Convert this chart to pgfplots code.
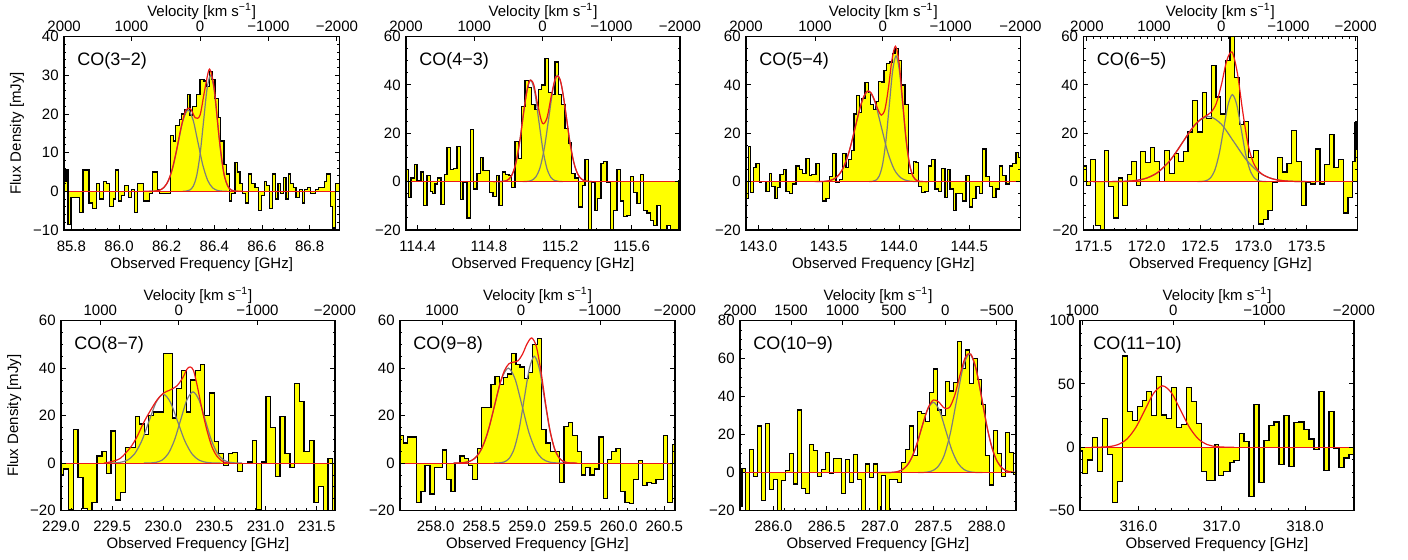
\documentclass[border=0pt]{standalone}
\usepackage{fontspec}
\setmainfont{Liberation Sans}
\usepackage{pgfplots}
\usepackage{pgfplotstable}
\pgfplotsset{compat=1.18}
\definecolor{fitgray}{RGB}{125,125,125}
\definecolor{fitred}{RGB}{235,25,25}
\definecolor{specfill}{RGB}{255,255,0}
\newcommand{\tfont}{\fontsize{7.5}{8}\selectfont}
\pgfplotsset{
  spec/.style={
    scale only axis, anchor=south west, axis on top, clip=true,
    tick align=inside, xtick pos=left, xticklabel pos=left, ytick pos=both, yticklabel pos=left,
    major tick length=2.4pt, minor tick length=1.2pt,
    every tick/.append style={black, line width=0.45pt},
    axis line style={black, line width=0.6pt},
    tick label style={font=\tfont, inner sep=0pt},
    label style={font=\tfont},
    xticklabel={\pgfmathprintnumber[fixed,fixed zerofill,precision=1,assume math mode=true]{\tick}},
    xticklabel style={anchor=base, yshift=-10.5pt},
    yticklabel style={anchor=east, xshift=-2.5pt},
    xlabel={Observed Frequency [GHz]},
    xlabel style={at={(axis description cs:0.5,0)}, anchor=base, yshift=-19pt},
    ylabel style={at={(axis description cs:-0.171,0.5)}, anchor=center},
    minor x tick num=3,
  },
  vel/.style={
    scale only axis, anchor=south west, ymin=0, ymax=1, ytick=\empty,
    tick align=inside, xtick pos=right, xticklabel pos=right,
    major tick length=2.4pt, minor tick length=1.2pt, minor x tick num=9,
    every tick/.append style={black, line width=0.45pt},
    axis line style={black, line width=0.6pt},
    tick label style={font=\tfont, inner sep=0pt},
    xticklabel style={anchor=base, yshift=2.5pt},
    title={Velocity [km s\textsuperscript{−1}]},
    title style={at={(axis description cs:0.5,1)}, anchor=base, yshift=4pt, font=\tfont},
  },
  hist/.style={const plot, draw=none, fill=specfill},
  outl/.style={const plot, black, line width=0.6pt},
  gfit/.style={smooth, fitgray, line width=0.6pt},
  rfit/.style={smooth, fitred, line width=0.6pt},
  rbase/.style={fitred, line width=0.6pt},
}
\newcommand{\colab}[1]{\node[anchor=north west, inner sep=0pt, font=\fontsize{9}{10}\selectfont] at (rel axis cs:0,1) [xshift=6.5pt, yshift=-7.5pt] {#1};}

\pgfplotstableread{
x y
85.7692 2.5
85.7776 5.5
85.7860 -8.5
85.7986 -1.5
85.8351 -5.5
85.8491 5.5
85.8743 -3
85.8883 -4.5
85.9051 2
85.9192 -2
85.9332 2.5
85.9472 2
85.9612 -4
85.9752 -2
85.9864 5.5
85.9976 -2.5
86.0103 -1
86.0243 1.5
86.0383 -1.5
86.0523 0.5
86.0663 -5.5
86.0761 2
86.1014 -2.5
86.1294 -0.5
86.1392 5
86.1602 0.5
86.1714 -0.5
86.2163 14.5
86.2275 13
86.2387 17
86.2527 18.5
86.2625 20
86.2765 21
86.2877 25
86.2976 19.5
86.3088 22
86.3256 25
86.3396 29
86.3564 28.5
86.3676 27
86.3788 31
86.3901 29
86.4027 24
86.4167 19
86.4265 13
86.4405 7
86.4517 4.5
86.4629 -2.5
86.4727 -0.5
86.4868 7.5
86.4966 5
86.5078 2
86.5190 -0.5
86.5302 -3
86.5428 4.5
86.5568 2
86.5709 1
86.5849 -5
86.5989 -1
86.6101 2.5
86.6199 1.5
86.6311 -4.5
86.6451 4.5
86.6563 -2
86.6676 2
86.6788 -0.5
86.6900 3.5
86.7012 -2
86.7124 4.5
86.7208 2
86.7320 1
86.7432 -1.5
86.7573 0.5
86.7685 -3
86.7797 0.5
86.7909 1
86.8021 -0.5
86.8245 0.5
86.8357 1
86.8610 2.5
86.8722 4.5
86.8862 -4
86.8974 -9.5
86.9086 2
86.9254 2
}\hA

\pgfplotstableread{
x y
114.3346 5
114.3477 -6.5
114.3626 1.5
114.3813 7
114.3963 0.5
114.4187 4
114.4337 -10
114.4523 2.5
114.4710 -4
114.4823 -5
114.4972 -1
114.5122 1.5
114.5309 -9.5
114.5495 3
114.5645 14
114.5832 5
114.6019 5.5
114.6206 14.5
114.6393 -7.5
114.6542 -0.5
114.6767 -15
114.6953 21.5
114.7140 -3
114.7327 3.5
114.7514 10
114.7664 4.5
114.8038 -4.5
114.8224 -6
114.8411 2.5
114.8561 -10
114.8748 4
114.8935 3
114.9122 2.5
114.9271 -2.5
114.9458 16.5
114.9645 9.5
114.9832 31
115.0019 42
115.0206 39
115.0393 32
115.0580 30
115.0767 38
115.0954 40
115.1140 51
115.1327 37
115.1514 36
115.1701 49.5
115.1888 36
115.2075 32
115.2262 22
115.2449 16
115.2636 3.5
115.2823 1.5
115.3010 -10.5
115.3234 -1.5
115.3383 9
115.3570 -28
115.3757 -0.5
115.3944 -12
115.4094 -7
115.4281 7.5
115.4430 8.5
115.4617 -0.5
115.4804 -28
115.4991 -12
115.5178 5
115.5365 -8
115.5552 -14.5
115.5739 -14
115.5926 2
115.6113 -4.5
115.6299 -9
115.6486 3
115.6673 -12
115.6860 -13
115.7047 -16
115.7234 -18
115.7421 -10
115.7608 -20
115.7795 -20
115.7982 -18
115.8169 -20
115.8356 -20.5
115.8617 0.5
115.8711 0.5
}\hB

\pgfplotstableread{
x y
142.9123 -7
142.9289 14.5
142.9455 -4.5
142.9645 6
142.9834 7.5
143.0071 -0.5
143.0237 0
143.0545 -4
143.0782 3.5
143.0948 -2
143.1185 -7
143.1351 -2.5
143.1540 3
143.1777 5
143.1967 -4
143.2204 -5
143.2441 -1
143.2678 6.5
143.2915 5
143.3152 3.5
143.3389 9.5
143.3626 2.5
143.3792 3
143.4100 7.5
143.4337 0
143.4574 -8
143.4811 -7
143.5048 2
143.5285 11.5
143.5522 -0.5
143.5758 1
143.5995 11.5
143.6232 6
143.6422 9
143.6612 13
143.6801 28
143.6991 35.5
143.7180 28.5
143.7346 34.5
143.7583 41
143.7820 37
143.7986 32
143.8176 30
143.8365 33
143.8555 41.5
143.8792 41
143.8934 46
143.9123 49
143.9313 49.5
143.9550 53
143.9716 55
143.9953 50
144.0190 40
144.0427 32
144.0664 3.5
144.0830 3.5
144.1019 8.5
144.1209 8
144.1398 -2
144.1612 -4.5
144.1849 -4
144.2086 6.5
144.2323 9
144.2560 -3
144.2797 -4
144.3033 5.5
144.3270 -6.5
144.3436 5
144.3626 -3
144.3863 -12
144.4052 -5
144.4289 -5
144.4526 -8
144.4763 2.5
144.5000 -10.5
144.5237 -7
144.5474 -2
144.5711 -5
144.5948 13.5
144.6185 2
144.6422 -2
144.6659 -6.5
144.6896 -3
144.7133 6.5
144.7370 2.5
144.7607 -1
144.7844 6.5
144.8081 7.5
144.8318 12
144.8484 10
144.8649 10
}\hC

\pgfplotstableread{
x y
171.4063 6.5
171.4313 -1.5
171.4688 9
171.5156 -18
171.5625 -22
171.6000 13
171.6438 -2
171.6875 -15
171.7344 1.5
171.7750 -10
171.8188 3
171.8594 8.5
171.9000 -1.5
171.9438 12.5
171.9875 8
172.0313 14
172.0750 8.5
172.1188 0
172.1656 13
172.2094 3.5
172.2563 11.5
172.3000 8.5
172.3438 12.5
172.3875 20.5
172.4313 33.5
172.4750 20.5
172.5188 37
172.5625 26
172.6063 48
172.6500 35
172.6938 28
172.7375 50
172.7813 62
172.8250 43
172.8688 23.5
172.9125 25
172.9563 10
173.0000 13
173.0469 -17.5
173.0938 -15.5
173.1375 -12
173.1781 -0.5
173.2250 10
173.2719 4
173.3156 7.5
173.3594 21
173.4063 8.5
173.4500 -10
173.4938 -0.5
173.5375 -1
173.5813 13.5
173.6250 -1
173.6688 7
173.7125 19.5
173.7563 6
173.8000 9
173.8438 -13
173.8875 -6.5
173.9313 8.5
173.9531 24.5
173.9688 13.5
173.9750 13.5
}\hD

\pgfplotstableread{
x y
229.0033 -5
229.0260 -2.5
229.0749 -19.5
229.1237 14
229.1660 -6
229.2148 -19
229.2604 -21
229.3027 -16.5
229.3516 3
229.4004 5
229.4427 -4.5
229.4883 13.5
229.5339 -15.5
229.5794 -12.5
229.6283 6.5
229.7259 19.5
229.7682 16.5
229.8138 12
229.8561 20
229.9049 21.5
230.0026 46
230.0937 19
230.1328 31.5
230.1816 39
230.2240 21.5
230.2695 35
230.3118 39
230.3607 41.5
230.4062 20
230.4518 29.5
230.4974 9
230.5430 4
230.5885 -1
230.6341 4
230.6797 4.5
230.7253 -3.5
230.7773 0
230.8229 0.5
230.8685 9.5
230.9141 -19.5
230.9596 0.5
231.0052 28
231.0508 15
231.0964 -5.5
231.1419 19.5
231.1908 4
231.2396 -2
231.2852 33.5
231.3307 26
231.3763 5
231.4284 9.5
231.4740 -16.5
231.5195 -10
231.5651 -22
231.6107 2
231.6562 -20
231.6790 -20
}\hE

\pgfplotstableread{
x y
257.6101 11.5
257.6465 8.5
257.6939 11
257.7923 -16.5
257.8396 -12
257.8834 -1
257.9380 -13
257.9854 -2
258.0729 5.5
258.1203 -7
258.1676 -12
258.2114 0
258.2660 3
258.3134 2
258.3571 -1
258.4045 -7
258.4555 6
258.5029 23.5
258.6050 33
258.6487 36.5
258.6961 33
258.7398 36
258.7872 37.5
258.8309 46
258.8783 41.5
258.9220 40.5
258.9694 35.5
259.0131 38
259.0605 50
259.1115 52.5
259.1589 14
259.2063 8.5
259.2573 5
259.3520 -8
259.4031 15.5
259.4504 17
259.4978 11.5
259.5488 5
259.5962 -5
259.6399 -2
259.6873 -5
259.7347 -2.5
259.7857 11
259.8331 -15
259.8805 1.5
259.9242 5
259.9716 6
260.0189 -12
260.0700 -16.5
260.1173 -17
260.1647 -7
260.2157 1
260.2631 -9.5
260.3105 -8
260.3615 -8.5
260.4089 -7
260.4891 11.5
260.5364 -16.5
260.5911 8
260.6166 8
}\hF

\pgfplotstableread{
x y
285.6875 -18
285.7063 2
285.7375 -22
285.7750 12
285.8125 -2
285.8500 24.5
285.8875 -14.5
285.9250 26
285.9625 -9
286.0000 -3.5
286.0375 -22
286.0750 -4
286.1125 1
286.1500 10
286.1875 -6
286.2250 33
286.2625 -8.5
286.3000 -11
286.3375 15
286.3750 11.5
286.4125 -2
286.4500 1.5
286.4875 10.5
286.5250 -0.5
286.5625 7.5
286.6375 -11
286.6750 7
286.7125 -5
286.7500 9.5
286.7875 -3.5
286.8250 -20
286.8625 4.5
286.9000 -2.5
286.9375 4.5
286.9750 -21
287.0125 -1.5
287.0500 -22
287.0875 -3.5
287.1625 -5
287.2000 5.5
287.2375 12
287.2750 24.5
287.3125 9
287.3500 32
287.3875 31
287.4250 27
287.4625 42
287.5000 54.5
287.5375 33
287.5750 30
287.6125 48
287.6500 43
287.6875 47.5
287.7250 69
287.7625 55
287.8000 64.5
287.8375 47
287.8750 60
287.9125 49
287.9500 36
287.9875 9
288.0250 -6.5
288.0625 22
288.1000 10
288.1375 -2
288.1750 21
288.2125 10.5
288.2500 -1
288.2750 -1
}\hG

\pgfplotstableread{
x y
315.300 -3
315.332 -20.5
315.388 -10
315.448 7.5
315.508 -19
315.568 23
315.628 -6
315.688 -43.5
315.748 -27
315.808 72
315.868 28
315.928 21
315.988 32
316.048 37
316.100 44
316.160 25
316.220 56
316.280 25.5
316.340 23
316.400 47.5
316.460 15.5
316.520 18
316.580 47
316.640 36
316.700 19
316.760 -19
316.820 -26.5
316.920 2
316.960 -22
317.020 -19
317.100 -12
317.148 -10.5
317.212 11
317.268 4.5
317.328 -39
317.388 33.5
317.448 -28
317.508 5.5
317.568 17.5
317.628 20
317.688 -13.5
317.748 25
317.808 -15
317.868 19.5
317.928 20
317.988 14
318.048 6.5
318.108 -2
318.168 44
318.228 -18.5
318.288 28.5
318.348 -1
318.408 -16
318.468 -8.5
318.528 -5.5
318.588 -5.5
}\hH

\begin{document}
\begin{tikzpicture}
\useasboundingbox (0,0) rectangle (704pt,279.5pt);

% ---------------- Panel 1: CO(3-2)
\begin{axis}[spec, at={(32pt,164.5pt)}, width=137.7pt, height=96.7pt,
  xmin=85.769, xmax=86.925, ymin=-10, ymax=40,
  xtick={85.8,86.0,86.2,86.4,86.6,86.8},
  ytick={-10,0,10,20,30,40}, yticklabels={−10,0,10,20,30,40}, minor y tick num=4,
  ylabel={Flux Density [mJy]}]
\addplot[hist] table {\hA} \closedcycle;
\addplot[outl] table {\hA};
\addplot[gfit] coordinates {(86.126,0.006) (86.1465,0.046) (86.167,0.233) (86.1875,0.922) (86.208,2.84) (86.2285,6.82) (86.249,12.74) (86.2695,18.53) (86.29,21) (86.3105,18.53) (86.331,12.74) (86.3515,6.82) (86.372,2.84) (86.3925,0.922) (86.413,0.233) (86.4335,0.046) (86.454,0.006)};
\addplot[gfit] coordinates {(86.268,0.009) (86.2825,0.066) (86.297,0.333) (86.3115,1.317) (86.326,4.06) (86.3405,9.74) (86.355,18.2) (86.3695,26.5) (86.384,30) (86.3985,26.5) (86.413,18.2) (86.4275,9.74) (86.442,4.06) (86.4565,1.317) (86.471,0.333) (86.4855,0.066) (86.50,0.009)};
\addplot[rbase] coordinates {(85.769,0) (86.925,0)};
\addplot[rfit] coordinates {(86.10,0) (86.12,0.005) (86.14,0.03) (86.16,0.14) (86.18,0.59) (86.20,1.93) (86.22,5.0) (86.24,10.2) (86.26,16.4) (86.28,20.95) (86.30,21.35) (86.32,19.0) (86.34,19.7) (86.36,26.3) (86.38,31.6) (86.40,26.4) (86.42,14.0) (86.44,4.65) (86.46,0.97) (86.48,0.12) (86.50,0.01) (86.52,0)};
\colab{CO(3−2)}
\end{axis}
\begin{axis}[vel, at={(32pt,164.5pt)}, width=137.7pt, height=96.7pt,
  xmin=85.769, xmax=86.925,
  xtick={85.7695,86.052,86.34,86.627,86.9145}, xticklabels={2000,1000,0,−1000,−2000}]
\end{axis}

% ---------------- Panel 2: CO(4-3)
\begin{axis}[spec, at={(203pt,164.5pt)}, width=137pt, height=96.7pt,
  xmin=114.335, xmax=115.871, ymin=-20, ymax=60,
  xtick={114.4,114.8,115.2,115.6},
  ytick={-20,0,20,40,60}, yticklabels={−20,0,20,40,60}, minor y tick num=3]
\addplot[hist] table {\hB} \closedcycle;
\addplot[outl] table {\hB};
\addplot[gfit] coordinates {(114.854,0.013) (114.8765,0.092) (114.899,0.466) (114.9215,1.844) (114.944,5.68) (114.9665,13.64) (114.989,25.47) (115.0115,37.07) (115.034,42) (115.0565,37.07) (115.079,25.47) (115.1015,13.64) (115.124,5.68) (115.1465,1.844) (115.169,0.466) (115.1915,0.092) (115.214,0.013)};
\addplot[gfit] coordinates {(114.989,0.013) (115.0135,0.097) (115.038,0.488) (115.0625,1.93) (115.087,5.95) (115.1115,14.29) (115.136,26.69) (115.1605,38.83) (115.185,44) (115.2095,38.83) (115.234,26.69) (115.2585,14.29) (115.283,5.95) (115.3075,1.93) (115.332,0.488) (115.3565,0.097) (115.381,0.013)};
\addplot[rbase] coordinates {(114.335,0) (115.871,0)};
\addplot[rfit] coordinates {(114.825,0) (114.85,0.01) (114.875,0.08) (114.90,0.49) (114.925,2.24) (114.95,7.35) (114.975,17.8) (115.00,31.6) (115.025,41.4) (115.05,40.4) (115.075,31.2) (115.10,24.1) (115.125,26.3) (115.15,35.6) (115.175,43.4) (115.20,42.0) (115.225,31.5) (115.25,18.2) (115.275,8.1) (115.30,2.8) (115.325,0.74) (115.35,0.15) (115.375,0.02) (115.40,0)};
\colab{CO(4−3)}
\end{axis}
\begin{axis}[vel, at={(203pt,164.5pt)}, width=137pt, height=96.7pt,
  xmin=114.335, xmax=115.871,
  xtick={114.3355,114.718,115.101,115.486,115.8705}, xticklabels={2000,1000,0,−1000,−2000}]
\end{axis}

% ---------------- Panel 3: CO(5-4)
\begin{axis}[spec, at={(373pt,164.5pt)}, width=137.3pt, height=96.7pt,
  xmin=142.912, xmax=144.865, ymin=-20, ymax=60,
  xtick={143.0,143.5,144.0,144.5}, minor x tick num=4,
  ytick={-20,0,20,40,60}, yticklabels={−20,0,20,40,60}, minor y tick num=3]
\addplot[hist] table {\hC} \closedcycle;
\addplot[outl] table {\hC};
\addplot[gfit] coordinates {(143.414,0.011) (143.46,0.083) (143.506,0.416) (143.552,1.646) (143.598,5.07) (143.644,12.18) (143.69,22.74) (143.736,33.09) (143.782,37.5) (143.828,33.09) (143.874,22.74) (143.92,12.18) (143.966,5.07) (144.012,1.646) (144.058,0.416) (144.104,0.083) (144.15,0.011)};
\addplot[gfit] coordinates {(143.787,0.016) (143.811,0.114) (143.835,0.577) (143.859,2.28) (143.883,7.04) (143.907,16.88) (143.931,31.54) (143.955,45.89) (143.979,52) (144.003,45.89) (144.027,31.54) (144.051,16.88) (144.075,7.04) (144.099,2.28) (144.123,0.577) (144.147,0.114) (144.171,0.016)};
\addplot[rbase] coordinates {(142.912,0) (144.865,0)};
\addplot[rfit] coordinates {(143.40,0.01) (143.425,0.03) (143.45,0.06) (143.475,0.14) (143.50,0.34) (143.525,0.76) (143.55,1.56) (143.575,2.99) (143.60,5.29) (143.625,8.7) (143.65,13.4) (143.675,19.1) (143.70,25.2) (143.725,30.9) (143.75,35.3) (143.775,37.4) (143.80,36.85) (143.825,33.9) (143.85,29.9) (143.875,27.5) (143.90,29.9) (143.925,38.8) (143.95,50.4) (143.975,56.0) (144.00,49.5) (144.025,34.0) (144.05,17.9) (144.075,7.3) (144.10,2.26) (144.125,0.55) (144.15,0.1) (144.175,0.01) (144.20,0)};
\colab{CO(5−4)}
\end{axis}
\begin{axis}[vel, at={(373pt,164.5pt)}, width=137.3pt, height=96.7pt,
  xmin=142.912, xmax=144.865,
  xtick={142.9125,143.403,143.884,144.367,144.8645}, xticklabels={2000,1000,0,−1000,−2000}]
\end{axis}

% ---------------- Panel 4: CO(6-5)
\begin{axis}[spec, at={(541.7pt,164.5pt)}, width=137pt, height=96.7pt,
  xmin=171.406, xmax=173.975, ymin=-20, ymax=60,
  xtick={171.5,172.0,172.5,173.0,173.5}, minor x tick num=4,
  ytick={-20,0,20,40,60}, yticklabels={−20,0,20,40,60}, minor y tick num=3]
\addplot[hist] table {\hD} \closedcycle;
\addplot[outl] table {\hD};
\addplot[gfit] coordinates {(171.618,0.008) (171.738,0.059) (171.858,0.3) (171.978,1.185) (172.098,3.65) (172.218,8.77) (172.338,16.38) (172.458,23.83) (172.578,27) (172.698,23.83) (172.818,16.38) (172.938,8.77) (173.058,3.65) (173.178,1.185) (173.298,0.3) (173.418,0.059) (173.538,0.008)};
\addplot[gfit] coordinates {(172.475,0.011) (172.516,0.079) (172.557,0.4) (172.598,1.58) (172.639,4.87) (172.68,11.69) (172.721,21.83) (172.762,31.77) (172.803,36) (172.844,31.77) (172.885,21.83) (172.926,11.69) (172.967,4.87) (173.008,1.58) (173.049,0.4) (173.09,0.079) (173.131,0.011)};
\addplot[rbase] coordinates {(171.406,0) (173.975,0)};
\addplot[rfit] coordinates {(171.5,0) (171.6,0.007) (171.7,0.03) (171.8,0.14) (171.9,0.5) (172.0,1.49) (172.1,3.72) (172.2,7.81) (172.25,10.6) (172.3,13.8) (172.35,17.2) (172.4,20.5) (172.45,23.4) (172.5,25.6) (172.55,27.1) (172.6,28.6) (172.65,32.1) (172.7,40.1) (172.75,50.1) (172.8,53.6) (172.85,44.8) (172.9,28.9) (172.95,15.3) (173.0,7.8) (173.05,4.3) (173.1,2.6) (173.15,1.58) (173.2,0.94) (173.25,0.54) (173.3,0.29) (173.4,0.08) (173.5,0.02) (173.6,0)};
\colab{CO(6−5)}
\end{axis}
\begin{axis}[vel, at={(541.7pt,164.5pt)}, width=137pt, height=96.7pt,
  xmin=171.406, xmax=173.975,
  xtick={171.439,172.069,172.699,173.329,173.959}, xticklabels={2000,1000,0,−1000,−2000}]
\end{axis}

% ---------------- Panel 5: CO(8-7)
\begin{axis}[spec, at={(30.5pt,24.2pt)}, width=137pt, height=95pt,
  xmin=229.0, xmax=231.679, ymin=-20, ymax=60,
  xtick={229.0,229.5,230.0,230.5,231.0,231.5}, minor x tick num=4,
  ytick={-20,0,20,40,60}, yticklabels={−20,0,20,40,60}, minor y tick num=3,
  ylabel={Flux Density [mJy]}]
\addplot[hist] table {\hE} \closedcycle;
\addplot[outl] table {\hE};
\addplot[gfit] coordinates {(229.44,0.009) (229.51,0.064) (229.58,0.322) (229.65,1.273) (229.72,3.92) (229.79,9.42) (229.86,17.59) (229.93,25.59) (230.0,29) (230.07,25.59) (230.14,17.59) (230.21,9.42) (230.28,3.92) (230.35,1.273) (230.42,0.322) (230.49,0.064) (230.56,0.009)};
\addplot[gfit] coordinates {(229.81,0.009) (229.87,0.066) (229.93,0.333) (229.99,1.317) (230.05,4.06) (230.11,9.74) (230.17,18.2) (230.23,26.5) (230.29,30) (230.35,26.5) (230.41,18.2) (230.47,9.74) (230.53,4.06) (230.59,1.317) (230.65,0.333) (230.71,0.066) (230.77,0.009)};
\addplot[rbase] coordinates {(229.0,0) (231.679,0)};
\addplot[rfit] coordinates {(229.42,0) (229.4818,0.5) (229.5794,2) (229.6771,6.5) (229.7422,11) (229.8073,17) (229.8724,22) (229.9375,26.5) (230.0026,29.5) (230.0677,30.8) (230.1328,32.5) (230.1914,36) (230.2305,39.5) (230.2630,40.5) (230.2956,39) (230.3346,32) (230.3769,23) (230.4258,14) (230.4746,7) (230.5234,3) (230.5885,0.5) (230.6536,0)};
\colab{CO(8−7)}
\end{axis}
\begin{axis}[vel, at={(30.5pt,24.2pt)}, width=137pt, height=95pt,
  xmin=229.0, xmax=231.679,
  xtick={229.384,230.152,230.921,231.6785}, xticklabels={1000,0,−1000,−2000}]
\end{axis}

% ---------------- Panel 6: CO(9-8)
\begin{axis}[spec, at={(200pt,24.2pt)}, width=137.5pt, height=95pt,
  xmin=257.61, xmax=260.617, ymin=-20, ymax=60,
  xtick={258.0,258.5,259.0,259.5,260.0,260.5}, minor x tick num=4,
  ytick={-20,0,20,40,60}, yticklabels={−20,0,20,40,60}, minor y tick num=3]
\addplot[hist] table {\hF} \closedcycle;
\addplot[outl] table {\hF};
\addplot[gfit] coordinates {(258.194,0.012) (258.269,0.088) (258.344,0.444) (258.419,1.756) (258.494,5.41) (258.569,12.99) (258.644,24.26) (258.719,35.3) (258.794,40) (258.869,35.3) (258.944,24.26) (259.019,12.99) (259.094,5.41) (259.169,1.756) (259.244,0.444) (259.319,0.088) (259.394,0.012)};
\addplot[gfit] coordinates {(258.639,0.014) (258.694,0.099) (258.749,0.5) (258.804,1.976) (258.859,6.09) (258.914,14.61) (258.969,27.29) (259.024,39.71) (259.079,45) (259.134,39.71) (259.189,27.29) (259.244,14.61) (259.299,6.09) (259.354,1.976) (259.409,0.5) (259.464,0.099) (259.519,0.014)};
\addplot[rbase] coordinates {(257.61,0) (260.617,0)};
\addplot[rfit] coordinates {(258.20,0) (258.25,0.06) (258.30,0.18) (258.35,0.5) (258.40,1.27) (258.45,2.88) (258.50,5.86) (258.55,10.6) (258.60,17.3) (258.65,25.2) (258.70,33.0) (258.75,38.8) (258.80,41.8) (258.85,42.5) (258.90,43.1) (258.95,45.9) (259.00,50.3) (259.05,52.7) (259.10,49.2) (259.15,39.0) (259.20,25.6) (259.25,13.8) (259.30,6.1) (259.35,2.2) (259.40,0.65) (259.45,0.15) (259.50,0.03) (259.55,0)};
\colab{CO(9−8)}
\end{axis}
\begin{axis}[vel, at={(200pt,24.2pt)}, width=137.5pt, height=95pt,
  xmin=257.61, xmax=260.617,
  xtick={258.069,258.933,259.797,260.6165}, xticklabels={1000,0,−1000,−2000}]
\end{axis}

% ---------------- Panel 7: CO(10-9)
\begin{axis}[spec, at={(370pt,24.2pt)}, width=138pt, height=95pt,
  xmin=285.6875, xmax=288.275, ymin=-20, ymax=80,
  xtick={286.0,286.5,287.0,287.5,288.0}, minor x tick num=4,
  ytick={-20,0,20,40,60,80}, yticklabels={−20,0,20,40,60,80}, minor y tick num=3]
\addplot[hist] table {\hG} \closedcycle;
\addplot[outl] table {\hG};
\addplot[gfit] coordinates {(287.04,0.011) (287.0975,0.081) (287.155,0.411) (287.2125,1.624) (287.27,5.01) (287.3275,12.01) (287.385,22.44) (287.4425,32.65) (287.5,37) (287.5575,32.65) (287.615,22.44) (287.6725,12.01) (287.73,5.01) (287.7875,1.624) (287.845,0.411) (287.9025,0.081) (287.96,0.011)};
\addplot[gfit] coordinates {(287.3575,0.019) (287.4175,0.1375) (287.4775,0.694) (287.5375,2.744) (287.5975,8.46) (287.6575,20.29) (287.7175,37.91) (287.7775,55.16) (287.8375,62.5) (287.8975,55.16) (287.9575,37.91) (288.0175,20.29) (288.0775,8.46) (288.1375,2.744) (288.1975,0.694) (288.2575,0.1375) (288.3175,0.019)};
\addplot[rbase] coordinates {(285.6875,0) (288.275,0)};
\addplot[rfit] coordinates {(286.95,0) (287.00,0.005) (287.05,0.02) (287.10,0.09) (287.15,0.36) (287.20,1.23) (287.25,3.48) (287.30,8.16) (287.35,15.8) (287.40,25.4) (287.45,34.0) (287.50,38.2) (287.55,37.2) (287.60,34.1) (287.65,34.2) (287.70,40.6) (287.75,51.4) (287.80,60.7) (287.85,62.5) (287.90,54.7) (287.95,40.3) (288.00,25.0) (288.05,13.0) (288.10,5.7) (288.15,2.1) (288.20,0.65) (288.25,0.17) (288.275,0.08)};
\colab{CO(10−9)}
\end{axis}
\begin{axis}[vel, at={(370pt,24.2pt)}, width=138pt, height=95pt,
  xmin=285.6875, xmax=288.275, minor x tick num=4,
  xtick={285.688,286.167,286.649,287.131,287.613,288.095}, xticklabels={2000,1500,1000,500,0,−500}]
\end{axis}

% ---------------- Panel 8: CO(11-10)
\begin{axis}[spec, at={(540pt,24.2pt)}, width=137pt, height=95pt,
  xmin=315.3, xmax=318.588, ymin=-50, ymax=100,
  xtick={316.0,317.0,318.0}, minor x tick num=4,
  ytick={-50,0,50,100}, yticklabels={−50,0,50,100}, minor y tick num=4]
\addplot[hist] table {\hH} \closedcycle;
\addplot[outl] table {\hH};
\addplot[rbase] coordinates {(315.3,0) (318.588,0)};
\addplot[rfit] coordinates {(315.436,0.015) (315.543,0.107) (315.65,0.54) (315.757,2.13) (315.864,6.56) (315.971,15.75) (316.078,29.4) (316.185,42.8) (316.292,48.5) (316.399,42.8) (316.506,29.4) (316.613,15.75) (316.72,6.56) (316.827,2.13) (316.934,0.54) (317.041,0.107) (317.148,0.015)};
\colab{CO(11−10)}
\end{axis}
\begin{axis}[vel, at={(540pt,24.2pt)}, width=137pt, height=95pt,
  xmin=315.3, xmax=318.588,
  xtick={315.328,316.42,317.512,318.5875}, xticklabels={1000,0,−1000,−2000}]
\end{axis}
\end{tikzpicture}
\end{document}
